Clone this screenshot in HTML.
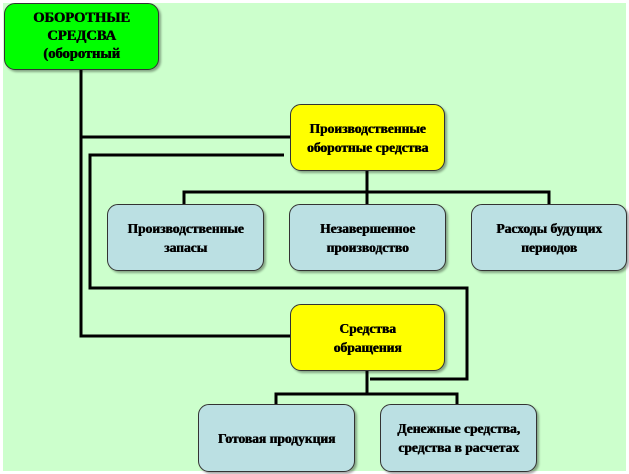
<!DOCTYPE html><html><head><style>
body{margin:0;width:629px;height:474px;background:#fff;position:relative;overflow:hidden;font-family:"Liberation Serif",serif;font-weight:bold;}
.bg{position:absolute;left:3px;top:3px;width:623px;height:468px;background:#ccffcc}
.b{position:absolute;border:1px solid #333;border-radius:11px;display:flex;align-items:center;justify-content:center;text-align:center;font-size:13.5px;line-height:19px;box-sizing:border-box;box-shadow:2px 2px 2px rgba(0,0,0,.35);text-shadow:0.6px 0 0 #000}
.g{background:#00ff00}.y{background:#ffff00}.c{background:#bbe0e3}
svg{position:absolute;left:0;top:0}
</style></head><body><div class="bg"></div>
<svg width="629" height="474"><g stroke="#000" stroke-width="3" fill="none">
<path d="M81 70V336H290M81 137H290"/>
<path d="M284 155H90V288H467V379H370"/>
<path d="M367 170V192M184 204V192H549V204M367 192V204"/>
<path d="M367 370V394M276 405V394H457V405"/>
</g></svg>
<div class="b g" style="left:4px;top:3px;width:155px;height:67px;align-items:flex-start;padding-top:5px;font-size:14.5px;line-height:18px">ОБОРОТНЫЕ<br>СРЕДСВА<br>(оборотный</div>
<div class="b y" style="left:290px;top:104px;width:155px;height:67px">Производственные<br>оборотные средства</div>
<div class="b c" style="left:107px;top:204px;width:157px;height:67px">Производственные<br>запасы</div>
<div class="b c" style="left:289px;top:204px;width:157px;height:67px">Незавершенное<br>производство</div>
<div class="b c" style="left:471px;top:204px;width:156px;height:67px">Расходы будущих<br>периодов</div>
<div class="b y" style="left:290px;top:304px;width:155px;height:67px">Средства<br>обращения</div>
<div class="b c" style="left:198px;top:404px;width:157px;height:68px">Готовая продукция</div>
<div class="b c" style="left:380px;top:404px;width:157px;height:68px">Денежные средства,<br>средства в расчетах</div>
</body></html>
